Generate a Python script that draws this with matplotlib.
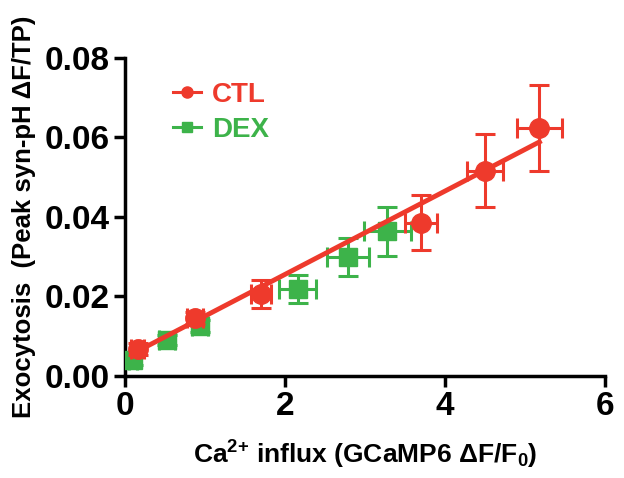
import matplotlib
matplotlib.use("Agg")
import matplotlib.pyplot as plt
from matplotlib.lines import Line2D
import numpy as np

plt.rcParams['font.family'] = ['Liberation Sans', 'DejaVu Sans']
plt.rcParams['font.weight'] = 'bold'
plt.rcParams['mathtext.fontset'] = 'custom'
plt.rcParams['mathtext.rm'] = 'Liberation Sans:bold'
plt.rcParams['mathtext.default'] = 'rm'

RED = "#ee3a2c"
GREEN = "#3db34a"

# CTL group
ctl_x = [0.16, 0.88, 1.70, 3.70, 4.50, 5.18]
ctl_y = [0.0068, 0.0145, 0.0207, 0.0386, 0.0516, 0.0623]
ctl_xerr = [0.08, 0.10, 0.13, 0.20, 0.22, 0.28]
ctl_yerr = [0.0015, 0.0015, 0.0035, 0.0070, 0.0092, 0.0108]

# DEX group
dex_x = [0.10, 0.53, 0.94, 2.16, 2.79, 3.28]
dex_y = [0.0040, 0.0090, 0.0125, 0.0218, 0.0300, 0.0364]
dex_xerr = [0.05, 0.10, 0.10, 0.23, 0.26, 0.29]
dex_yerr = [0.0012, 0.0012, 0.0015, 0.0035, 0.0048, 0.0062]

# linear fit through CTL
fit_slope = 0.01048
fit_intercept = 0.0046

fig = plt.figure(figsize=(6.24, 4.78), dpi=100)
ax = fig.add_axes([0.2003, 0.2134, 0.7693, 0.6653])

ax.errorbar(dex_x, dex_y, xerr=dex_xerr, yerr=dex_yerr, fmt='s', color=GREEN,
            ms=13, elinewidth=2.2, capsize=7, capthick=2.2, zorder=3)
ax.errorbar(ctl_x, ctl_y, xerr=ctl_xerr, yerr=ctl_yerr, fmt='o', color=RED,
            ms=14, elinewidth=2.2, capsize=7, capthick=2.2, zorder=4)

fx = np.array([min(ctl_x), max(ctl_x)])
ax.plot(fx, fit_slope * fx + fit_intercept, color=RED, lw=3.5, zorder=5)

ax.set_xlim(0, 6)
ax.set_ylim(0, 0.08)
ax.set_xticks([0, 2, 4, 6])
ax.set_yticks([0, 0.02, 0.04, 0.06, 0.08])
ax.set_yticklabels(["0.00", "0.02", "0.04", "0.06", "0.08"])

for s in ['top', 'right']:
    ax.spines[s].set_visible(False)
for s in ['left', 'bottom']:
    ax.spines[s].set_linewidth(2.5)
ax.tick_params(width=2.5, length=8, labelsize=24, pad=3)

ax.set_xlabel(r"Ca$^{2{+}}$ influx (GCaMP6 ΔF/F$_0$)", fontsize=19, fontweight='bold', labelpad=12)
ax.set_ylabel("Exocytosis  (Peak syn-pH ΔF/TP)", fontsize=18.5, fontweight='bold', labelpad=6)

# legend: line + marker only
handles = [Line2D([], [], color=RED, marker='o', ms=8, lw=2.2),
           Line2D([], [], color=GREEN, marker='s', ms=7, lw=2.2)]
leg = ax.legend(handles, ['CTL', 'DEX'], loc='upper left', bbox_to_anchor=(0.06, 0.985),
                frameon=False, fontsize=20, handlelength=1.0,
                labelspacing=0.3, handletextpad=0.4, borderaxespad=0.3)
for txt, c in zip(leg.get_texts(), [RED, GREEN]):
    txt.set_color(c)

fig.savefig("out.png", dpi=100)
